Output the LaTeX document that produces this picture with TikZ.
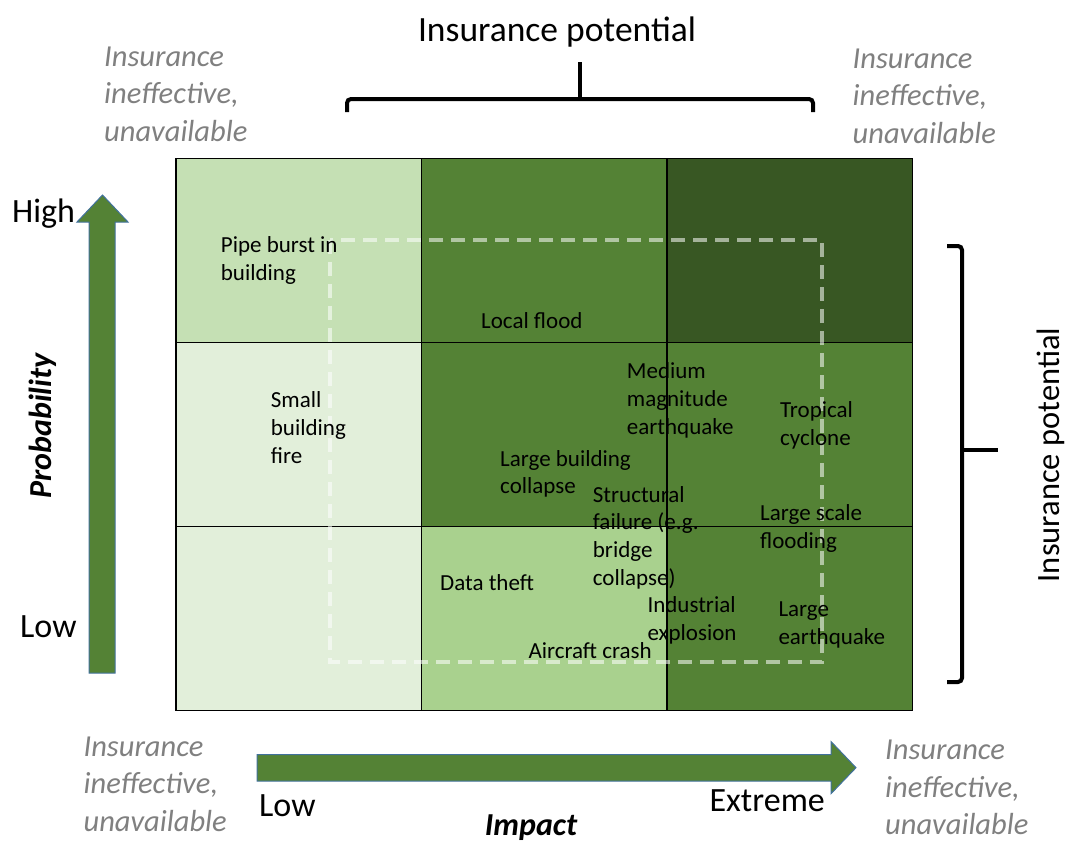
\documentclass[tikz,border=0pt]{standalone}
\usepackage{fontspec}
\setmainfont{Carlito}
\usepackage{tikz}
\definecolor{palegreen}{HTML}{E2EFDA}
\definecolor{lightgreen}{HTML}{C5E0B4}
\definecolor{midgreen}{HTML}{A9D18E}
\definecolor{leafgreen}{HTML}{548235}
\definecolor{darkgreen}{HTML}{385723}
\definecolor{arrowblue}{HTML}{41719C}
\definecolor{notegray}{HTML}{808080}
\usetikzlibrary{positioning}
\tikzset{cell/.style={draw=black,line width=1.5pt,minimum width=245.5pt,minimum height=184pt,inner sep=0pt}}
\tikzset{risk/.style={anchor=base west,align=left,inner sep=0pt,font=\fontsize{23}{27.8}\selectfont}}
\tikzset{note/.style={anchor=base west,align=left,inner sep=0pt,text=notegray,font=\fontsize{30.5}{37.5}\selectfont\itshape}}
\tikzset{level/.style={anchor=base west,inner sep=0pt,font=\fontsize{34}{40}\selectfont}}
\tikzset{axis/.style={inner sep=0pt,font=\fontsize{32}{38}\selectfont\bfseries\itshape}}
\tikzset{brace/.style={black,line width=4pt,rounded corners=4pt}}
\tikzset{blockarrow/.style={fill=leafgreen,draw=arrowblue,line width=1pt}}

\begin{document}
\begin{tikzpicture}[x=1pt,y=-1pt]
        \useasboundingbox (0,0) rectangle (1068,841);
        % matrix cells
        \node[cell,fill=lightgreen] (c11) at (298.5,250.5) {};
        \node[cell,fill=leafgreen] (c12) at (544,250.5) {};
        \node[cell,fill=darkgreen] (c13) at (789.5,250.5) {};
        \node[cell,fill=palegreen] (c21) at (298.5,434.5) {};
        \node[cell,fill=leafgreen] (c22) at (544,434.5) {};
        \node[cell,fill=leafgreen] (c23) at (789.5,434.5) {};
        \node[cell,fill=palegreen] (c31) at (298.5,618.5) {};
        \node[cell,fill=midgreen] (c32) at (544,618.5) {};
        \node[cell,fill=leafgreen] (c33) at (789.5,618.5) {};
        \draw[white,opacity=0.55,line width=4pt,dash pattern=on 14pt off 8pt] (330,239.5) rectangle (822,662);
        % risks (placed at the baseline of their last line)
        \node[risk] (pipe) at (220.7,280) {Pipe burst in\\building};
        \node[risk] (localflood) at (481,328) {Local flood};
        \node[risk] (smallfire) at (270.7,463.5) {Small\\building\\fire};
        \node[risk] (medquake) at (626.7,434.5) {Medium\\magnitude\\earthquake};
        \node[risk] (cyclone) at (780,445.5) {Tropical\\cyclone};
        \node[risk] (largecollapse) at (500,493.8) {Large building\\collapse};
        \node[risk] (structural) at (592.7,585.5) {Structural\\failure (e.g.\\bridge\\collapse)};
        \node[risk] (largeflood) at (760,548.5) {Large scale\\flooding};
        \node[risk] (datatheft) at (440,590.7) {Data theft};
        \node[risk] (explosion) at (647.3,640.3) {Industrial\\explosion};
        \node[risk] (largequake) at (778.3,644.5) {Large\\earthquake};
        \node[risk] (aircraft) at (528.3,658.3) {Aircraft crash};
        % axes
        \draw[blockarrow] (89,673) -- (89,222) -- (77,222) -- (102.5,195) -- (128,222) -- (115,222) -- (115,673) -- cycle;
        \draw[blockarrow] (257,754.5) -- (831,754.5) -- (831,741.5) -- (856,767.7) -- (831,793.7) -- (831,781) -- (257,781) -- cycle;
        \node[level] (high) at (12,222.7) {High};
        \node[level] (lowp) at (20,637) {Low};
        \node[level] (lowi) at (259,816.8) {Low};
        \node[level] (extreme) at (709.4,811.7) {Extreme};
        \node[axis,rotate=90,anchor=base] (prob) at (51,426) {Probability};
        \node[axis,anchor=base] (impact) at (531,835) {Impact};
        % insurance potential
        \draw[brace] (347,112) -- (347,99) -- (813,99) -- (813,112);
        \draw[brace] (580,99) -- (580,62);
        \node[inner sep=0pt,anchor=base,font=\fontsize{35.5}{42}\selectfont] (pottop) at (557,41) {Insurance potential};
        \draw[brace] (947,246) -- (962,246) -- (962,682) -- (947,682);
        \draw[brace] (962,450) -- (998,450);
        \node[inner sep=0pt,rotate=90,anchor=base,font=\fontsize{32.5}{39}\selectfont] (potright) at (1059,455) {Insurance potential};
        \node[note] (notetl) at (104,141) {Insurance\\ineffective,\\unavailable};
        \node[note] (notetr) at (852.5,143) {Insurance\\ineffective,\\unavailable};
        \node[note] (notebl) at (83.4,831) {Insurance\\ineffective,\\unavailable};
        \node[note] (notebr) at (885,834.5) {Insurance\\ineffective,\\unavailable};
      \end{tikzpicture}
\end{document}
